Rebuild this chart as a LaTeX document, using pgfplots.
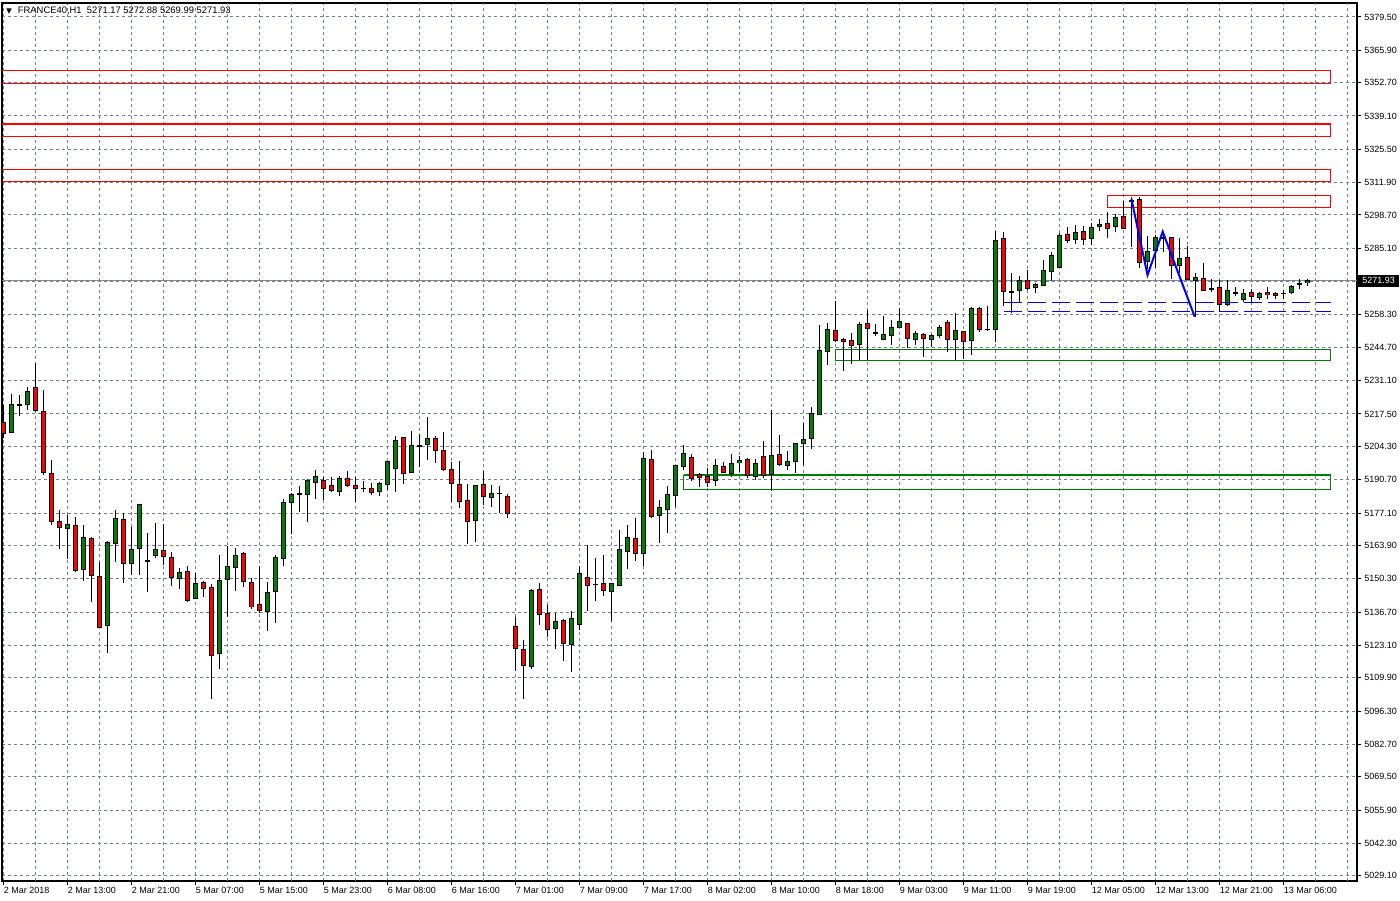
\documentclass[border=0pt]{standalone}
\usepackage{pgfplots}
\pgfplotsset{compat=1.18}
\usepackage{pgfplotstable}
\usepackage{fontspec}
\setmainfont{Liberation Sans}
\newfontfamily\dejavu{DejaVu Sans}
\definecolor{mtgreen}{RGB}{0,128,0}
\definecolor{mtred}{RGB}{255,0,0}
\definecolor{gridc}{RGB}{112,128,144}
\definecolor{bidc}{RGB}{119,136,153}
\definecolor{mtblue}{RGB}{0,0,255}

\pgfplotstableread{
i O H L C
1 5210.0 5225.6 5209.6 5221.4
2 5221.2 5225.2 5216.8 5221.4
3 5221.4 5228.5 5219.2 5226.8
8 5170.8 5176.3 5158.5 5172.5
10 5154.1 5172.2 5149.5 5167.2
13 5131.3 5165.6 5120.1 5165.2
14 5164.7 5178.3 5157.2 5174.9
16 5156.6 5171.5 5151.8 5162.3
17 5162.7 5181.0 5151.8 5180.6
19 5159.7 5172.9 5158.9 5162.3
22 5150.5 5154.6 5146.2 5152.9
24 5142.3 5152.5 5142.0 5148.4
27 5119.7 5160.0 5113.7 5149.6
28 5150.0 5163.6 5134.8 5155.3
29 5154.9 5163.1 5145.4 5159.8
33 5137.0 5148.9 5129.1 5144.7
34 5145.1 5160.0 5132.3 5159.0
35 5158.6 5183.1 5155.6 5181.5
36 5181.5 5185.5 5168.8 5184.7
37 5184.8 5188.1 5177.6 5185.0
38 5184.7 5191.0 5173.5 5190.4
39 5189.6 5194.6 5182.8 5192.1
42 5185.9 5192.2 5184.2 5191.3
45 5187.2 5190.4 5185.8 5187.4
47 5185.9 5190.0 5184.2 5189.2
48 5188.8 5198.6 5186.4 5198.2
49 5195.3 5208.6 5185.8 5206.8
51 5193.7 5210.8 5193.3 5204.7
52 5204.4 5209.2 5196.1 5204.8
53 5205.1 5216.3 5199.0 5207.6
59 5174.1 5188.6 5165.4 5188.4
61 5183.5 5188.4 5179.4 5185.1
62 5185.0 5188.4 5177.4 5185.2
66 5114.4 5146.1 5113.3 5145.5
69 5130.1 5136.3 5121.7 5132.9
71 5123.5 5137.0 5112.4 5134.1
72 5131.7 5155.5 5129.5 5152.5
76 5145.0 5148.6 5133.0 5148.4
77 5147.6 5170.4 5147.4 5162.3
78 5161.5 5172.5 5154.5 5167.2
80 5160.7 5201.9 5155.7 5199.4
82 5176.1 5182.3 5164.7 5179.4
83 5178.6 5188.0 5168.8 5184.7
84 5184.3 5196.7 5179.8 5196.5
85 5196.1 5205.1 5194.9 5201.4
89 5190.4 5199.4 5188.4 5196.5
91 5193.3 5201.1 5191.7 5197.4
92 5197.8 5200.6 5193.7 5198.6
94 5192.1 5199.4 5190.8 5197.4
96 5192.9 5219.1 5185.9 5200.6
98 5196.6 5202.3 5194.5 5198.2
99 5198.2 5205.9 5193.7 5205.5
100 5205.5 5213.9 5196.6 5207.2
101 5207.6 5220.5 5203.1 5217.8
102 5217.4 5253.8 5217.0 5243.5
103 5243.1 5254.9 5237.6 5252.0
107 5245.9 5255.3 5239.5 5254.1
109 5250.6 5254.5 5249.6 5250.8
110 5248.0 5257.5 5247.6 5250.0
111 5249.6 5256.1 5245.9 5252.9
112 5252.9 5261.0 5252.6 5255.3
114 5248.0 5251.6 5245.9 5250.4
116 5248.0 5250.0 5244.7 5249.6
117 5249.6 5254.1 5248.8 5252.9
119 5248.0 5258.6 5239.5 5251.6
121 5247.6 5261.4 5241.8 5260.6
124 5251.9 5292.3 5247.0 5288.4
126 5267.3 5275.3 5259.0 5267.5
127 5267.9 5273.7 5263.1 5272.0
129 5269.2 5270.8 5267.1 5270.4
130 5270.0 5280.2 5269.8 5276.1
131 5275.7 5283.5 5272.0 5282.2
132 5277.3 5291.3 5277.0 5290.4
134 5288.8 5294.5 5286.9 5291.6
136 5289.2 5295.7 5286.7 5293.7
137 5294.1 5297.3 5292.4 5294.9
139 5294.1 5299.4 5292.0 5297.7
141 5304.5 5306.3 5285.9 5304.9
143 5279.8 5290.4 5276.9 5283.9
144 5284.3 5290.4 5277.3 5289.6
147 5278.2 5289.2 5274.9 5281.0
149 5272.0 5274.9 5257.2 5273.3
151 5268.6 5272.8 5267.5 5268.8
153 5262.2 5272.4 5261.8 5267.9
154 5267.0 5269.6 5265.9 5267.2
155 5264.3 5268.4 5263.1 5266.7
157 5265.1 5267.1 5263.9 5266.7
160 5266.7 5268.4 5264.7 5266.9
161 5267.1 5270.4 5266.7 5269.6
162 5270.2 5272.4 5268.4 5270.6
163 5271.17 5272.88 5269.99 5271.93
}\bull

\pgfplotstableread{
i O H L C
0 5214.1 5221.2 5208.0 5209.6
4 5228.4 5238.2 5218.4 5219.0
5 5218.4 5227.6 5192.9 5193.7
6 5193.3 5198.7 5172.1 5173.7
7 5173.7 5178.3 5162.5 5171.3
9 5172.1 5175.3 5153.1 5153.6
11 5166.8 5167.2 5140.9 5151.7
12 5151.1 5157.2 5130.0 5130.5
15 5174.5 5177.0 5148.7 5156.6
18 5157.6 5168.8 5145.0 5157.4
20 5161.9 5172.6 5155.9 5159.3
21 5159.0 5161.1 5147.5 5150.9
23 5153.3 5155.5 5140.9 5141.5
25 5148.8 5149.4 5142.9 5146.6
26 5147.0 5148.1 5101.5 5119.0
30 5160.7 5161.1 5147.0 5149.2
31 5148.8 5150.5 5138.0 5138.9
32 5139.8 5155.5 5136.4 5137.4
40 5190.4 5191.8 5182.4 5187.2
41 5188.4 5191.7 5185.8 5186.4
43 5191.3 5194.2 5188.0 5188.4
44 5188.4 5191.7 5181.7 5187.2
46 5187.2 5189.2 5184.7 5185.5
50 5207.9 5208.3 5188.8 5193.3
54 5207.6 5208.8 5197.8 5202.7
55 5202.7 5210.4 5194.1 5194.9
56 5194.9 5197.8 5181.6 5189.2
57 5188.8 5198.6 5179.4 5181.9
58 5182.3 5188.8 5164.6 5173.7
60 5188.8 5194.4 5180.6 5183.9
63 5183.9 5185.1 5175.3 5177.0
64 5130.9 5134.8 5112.9 5121.9
65 5121.5 5125.3 5101.3 5114.9
67 5145.8 5148.5 5131.4 5135.8
68 5136.3 5139.6 5126.6 5129.6
70 5133.3 5134.1 5116.8 5123.9
73 5150.9 5164.3 5137.1 5147.6
74 5148.2 5158.7 5141.3 5148.0
75 5148.4 5160.2 5143.4 5145.6
79 5166.8 5175.3 5157.4 5160.7
81 5199.0 5203.1 5175.3 5175.7
86 5199.8 5201.4 5190.4 5191.3
87 5192.9 5193.7 5188.0 5191.7
88 5192.1 5195.7 5187.8 5189.6
90 5196.1 5197.8 5193.3 5193.7
93 5199.0 5199.4 5191.3 5192.5
95 5200.2 5206.5 5191.3 5192.5
97 5201.0 5208.9 5196.6 5197.0
104 5251.6 5263.9 5246.9 5247.6
105 5248.0 5248.8 5235.2 5247.2
106 5247.6 5250.8 5238.2 5245.5
108 5254.5 5259.8 5239.5 5252.4
113 5254.5 5254.7 5244.3 5248.4
115 5250.0 5250.8 5240.9 5248.4
118 5254.9 5256.1 5242.7 5248.0
120 5251.2 5251.6 5240.2 5247.2
122 5260.6 5261.4 5251.2 5252.0
123 5252.2 5261.8 5251.4 5252.0
125 5289.2 5292.0 5261.7 5267.5
128 5272.0 5276.5 5268.1 5268.8
133 5290.8 5293.7 5287.5 5288.4
135 5292.0 5294.5 5286.7 5288.8
138 5295.3 5299.8 5289.2 5293.3
140 5298.1 5304.3 5293.0 5293.3
142 5305.1 5306.0 5277.3 5279.4
145 5289.6 5291.2 5283.5 5289.3
146 5289.6 5290.0 5272.7 5278.2
148 5281.4 5285.9 5272.0 5272.4
150 5272.8 5279.0 5267.6 5267.9
152 5269.2 5272.4 5259.4 5262.2
156 5267.1 5268.8 5263.1 5265.5
158 5267.1 5269.2 5264.3 5266.3
159 5266.7 5267.1 5264.3 5265.9
}\bear

\pgfplotsset{
  candlebar/.style={only marks, mark=*, mark size=0.01pt,
    mark options={draw=none, fill=none, draw opacity=0, fill opacity=0},
    forget plot,
    error bars/.cd, y dir=both, y explicit, error mark=none,
    error bar style={#1}},
}

\begin{document}
\begin{tikzpicture}
\useasboundingbox (-1pt,-9.5pt) rectangle (699pt,440.5pt);
\begin{axis}[
  at={(0pt,0pt)}, anchor=south west,
  scale only axis, width=677.5pt, height=439pt,
  xmin=-0.19, xmax=169.19, ymin=5026.95, ymax=5385.2,
  axis line style={line width=0.6pt},
  tick align=outside, xtick pos=bottom, ytick pos=right, yticklabel pos=right,
  major tick length=2.2pt,
  tick style={black, line width=0.5pt},
  xtick={0,8,...,160},
  xticklabels={2 Mar 2018, 2 Mar 13:00, 2 Mar 21:00, 5 Mar 07:00, 5 Mar 15:00, 5 Mar 23:00, 6 Mar 08:00, 6 Mar 16:00, 7 Mar 01:00, 7 Mar 09:00, 7 Mar 17:00, 8 Mar 02:00, 8 Mar 10:00, 8 Mar 18:00, 9 Mar 03:00, 9 Mar 11:00, 9 Mar 19:00, 12 Mar 05:00, 12 Mar 13:00, 12 Mar 21:00, 13 Mar 06:00},
  ytick={5029.1,5042.3,5055.9,5069.5,5082.7,5096.3,5109.9,5123.1,5136.7,5150.3,5163.9,5177.1,5190.7,5204.3,5217.5,5231.1,5244.7,5258.3,5271.7,5285.1,5298.7,5311.9,5325.5,5339.1,5352.7,5365.9,5379.5},
  yticklabels={5029.10,5042.30,5055.90,5069.50,5082.70,5096.30,5109.90,5123.10,5136.70,5150.30,5163.90,5177.10,5190.70,5204.30,5217.50,5231.10,5244.70,5258.30,{},5285.10,5298.70,5311.90,5325.50,5339.10,5352.70,5365.90,5379.50},
  extra x ticks={4,12,...,164,168},
  extra x tick labels={},
  extra x tick style={major tick length=0pt, grid=major},
  extra y ticks={5271.93},
  extra y tick labels={5271.93},
  extra y tick style={grid=none, yticklabel style={fill=black, text=white, inner xsep=2pt, inner ysep=0pt, minimum height=6pt, xshift=-3pt}},
  grid=major,
  major grid style={draw=gridc, dash pattern=on 1.5pt off 1.5pt, line width=0.5pt},
  tick label style={font=\fontsize{4.5}{5}\selectfont},
  xticklabel style={anchor=north west, inner sep=0pt, yshift=-0.5pt},
  yticklabel style={anchor=west, inner sep=0pt, xshift=1.3pt},
]
% bid line
\addplot[bidc, line width=0.5pt, forget plot] coordinates {(-1,5271.93) (170,5271.93)};

% zones
\addplot[mtred, line width=0.6pt, forget plot] coordinates {(-1,5357.7) (165.9,5357.7) (165.9,5352.4) (-1,5352.4)};
\addplot[mtred, line width=0.6pt, forget plot] coordinates {(-1,5335.8) (165.9,5335.8) (165.9,5330.8) (-1,5330.8)};
\addplot[mtred, line width=0.6pt, forget plot] coordinates {(-1,5317.3) (165.9,5317.3) (165.9,5312.3) (-1,5312.3)};
\addplot[mtred, line width=0.6pt, forget plot] coordinates {(138,5306.7) (165.9,5306.7) (165.9,5301.8) (138,5301.8) (138,5306.7)};
\addplot[mtgreen, line width=0.6pt, forget plot] coordinates {(104,5243.9) (165.9,5243.9) (165.9,5239.4) (104,5239.4) (104,5243.9)};
\addplot[mtgreen, line width=0.6pt, forget plot] coordinates {(85,5192.6) (165.9,5192.6) (165.9,5186.8) (85,5186.8) (85,5192.6)};

% wicks
\addplot[candlebar={draw=black, line width=0.5pt}] table[x=i, y expr={(\thisrow{H}+\thisrow{L})/2}, y error expr={(\thisrow{H}-\thisrow{L})/2}] {\bull};
\addplot[candlebar={draw=black, line width=0.5pt}] table[x=i, y expr={(\thisrow{H}+\thisrow{L})/2}, y error expr={(\thisrow{H}-\thisrow{L})/2}] {\bear};
% body outlines
\addplot[candlebar={draw=black, line width=2.4pt}] table[x=i, y expr={(\thisrow{O}+\thisrow{C})/2}, y error expr={abs(\thisrow{C}-\thisrow{O})/2+0.2}] {\bull};
\addplot[candlebar={draw=black, line width=2.4pt}] table[x=i, y expr={(\thisrow{O}+\thisrow{C})/2}, y error expr={abs(\thisrow{C}-\thisrow{O})/2+0.2}] {\bear};
% body fills
\addplot[candlebar={draw=mtgreen, line width=1.4pt}] table[x=i, y expr={(\thisrow{O}+\thisrow{C})/2}, y error expr={max(abs(\thisrow{C}-\thisrow{O})/2-0.2,0)}] {\bull};
\addplot[candlebar={draw=mtred, line width=1.4pt}] table[x=i, y expr={(\thisrow{O}+\thisrow{C})/2}, y error expr={max(abs(\thisrow{C}-\thisrow{O})/2-0.2,0)}] {\bear};

% blue annotations
\addplot[mtblue, line width=0.5pt, dash pattern=on 9pt off 3pt, forget plot] coordinates {(125,5263.1) (165.9,5263.1)};
\addplot[mtblue, line width=0.5pt, dash pattern=on 9pt off 3pt, forget plot] coordinates {(125,5259.4) (165.9,5259.4)};
\addplot[mtblue, line width=1pt, forget plot] coordinates {(141,5305.1) (143,5274.2) (144.9,5291.9) (148.9,5257.2)};

\node[anchor=west, inner sep=0pt, font=\fontsize{4.7}{5}\selectfont] at (rel axis cs:0,1) [xshift=2pt, yshift=-3.9pt] {{\dejavu\fontsize{3.6}{4}\selectfont ▼}\hspace{3pt}FRANCE40,H1\ \ 5271.17 5272.88 5269.99 5271.93};
\end{axis}
\end{tikzpicture}
\end{document}
